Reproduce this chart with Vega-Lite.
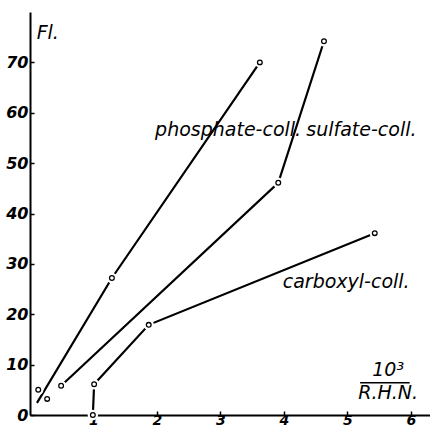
{
  "$schema": "https://vega.github.io/schema/vega-lite/v6.json",
  "width": 400,
  "height": 403,
  "autosize": {"type": "none"},
  "padding": {"left": 30, "top": 12, "right": 0, "bottom": 16},
  "background": "white",
  "config": {"view": {"stroke": null}},
  "datasets": {
    "lines": [
      {"series": "phosphate", "order": 1, "x": 0.11, "y": 2.4},
      {"series": "phosphate", "order": 2, "x": 1.29, "y": 27.2},
      {"series": "phosphate", "order": 3, "x": 3.62, "y": 70.0},
      {"series": "sulfate", "order": 1, "x": 0.49, "y": 5.8},
      {"series": "sulfate", "order": 2, "x": 3.91, "y": 46.1},
      {"series": "sulfate", "order": 3, "x": 4.63, "y": 74.2},
      {"series": "carboxyl", "order": 1, "x": 0.99, "y": 0},
      {"series": "carboxyl", "order": 2, "x": 1.01, "y": 6.1},
      {"series": "carboxyl", "order": 3, "x": 1.87, "y": 17.9},
      {"series": "carboxyl", "order": 4, "x": 5.43, "y": 36.1}
    ],
    "points": [
      {"series": "phosphate", "x": 0.13, "y": 5.0},
      {"series": "phosphate", "x": 0.27, "y": 3.2},
      {"series": "phosphate", "x": 1.29, "y": 27.2},
      {"series": "phosphate", "x": 3.62, "y": 70.0},
      {"series": "sulfate", "x": 0.49, "y": 5.8},
      {"series": "sulfate", "x": 3.91, "y": 46.1},
      {"series": "sulfate", "x": 4.63, "y": 74.2},
      {"series": "carboxyl", "x": 0.99, "y": 0},
      {"series": "carboxyl", "x": 1.01, "y": 6.1},
      {"series": "carboxyl", "x": 1.87, "y": 17.9},
      {"series": "carboxyl", "x": 5.43, "y": 36.1}
    ],
    "labels": [
      {"label": "phosphate-coll.", "x": 3.12, "y": 56.5},
      {"label": "sulfate-coll.", "x": 5.22, "y": 56.5},
      {"label": "carboxyl-coll.", "x": 4.98, "y": 26.4},
      {"label": "Fl.", "x": 0.28, "y": 75.8},
      {"label": "10³", "x": 5.64, "y": 8.9},
      {"label": "R.H.N.", "x": 5.64, "y": 4.3}
    ],
    "fraction": [
      {"x": 5.2, "x2": 5.98, "y": 6.4}
    ]
  },
  "layer": [
    {
      "data": {"name": "lines"},
      "mark": {"type": "line", "color": "black", "strokeWidth": 2.2, "clip": false},
      "encoding": {
        "x": {
          "field": "x", "type": "quantitative",
          "scale": {"domain": [0, 6.3], "nice": false, "zero": false},
          "axis": {
            "values": [1, 2, 3, 4, 5, 6],
            "format": "d",
            "title": null,
            "grid": false,
            "domainColor": "black",
            "domainWidth": 2,
            "tickColor": "black",
            "tickWidth": 1.5,
            "tickSize": -4,
            "labelFont": "DejaVu Sans",
            "labelFontStyle": "oblique",
            "labelFontWeight": "bold",
            "labelFontSize": 14,
            "labelColor": "black",
            "labelPadding": 2,
            "labelBaseline": "top"
          }
        },
        "y": {
          "field": "y", "type": "quantitative",
          "scale": {"domain": [0, 80], "nice": false},
          "axis": {
            "values": [0, 10, 20, 30, 40, 50, 60, 70],
            "format": "d",
            "title": null,
            "grid": false,
            "domainColor": "black",
            "domainWidth": 2,
            "tickColor": "black",
            "tickWidth": 1.5,
            "tickSize": -4,
            "labelFont": "DejaVu Sans",
            "labelFontStyle": "oblique",
            "labelFontWeight": "bold",
            "labelFontSize": 16,
            "labelColor": "black",
            "labelPadding": 6
          }
        },
        "detail": {"field": "series"},
        "order": {"field": "order"}
      }
    },
    {
      "data": {"name": "points"},
      "mark": {"type": "point", "shape": "circle", "filled": true, "color": "white", "size": 110, "opacity": 1, "clip": false},
      "encoding": {
        "x": {"field": "x", "type": "quantitative"},
        "y": {"field": "y", "type": "quantitative"}
      }
    },
    {
      "data": {"name": "points"},
      "mark": {"type": "point", "shape": "circle", "filled": false, "fill": "white", "fillOpacity": 1, "stroke": "black", "strokeWidth": 1.3, "size": 22, "opacity": 1, "clip": false},
      "encoding": {
        "x": {"field": "x", "type": "quantitative"},
        "y": {"field": "y", "type": "quantitative"}
      }
    },
    {
      "data": {"name": "labels"},
      "mark": {"type": "text", "font": "DejaVu Sans", "fontStyle": "oblique", "fontSize": 19, "color": "black", "baseline": "middle", "align": "center"},
      "encoding": {
        "x": {"field": "x", "type": "quantitative"},
        "y": {"field": "y", "type": "quantitative"},
        "text": {"field": "label"}
      }
    },
    {
      "data": {"name": "fraction"},
      "mark": {"type": "rule", "color": "black", "strokeWidth": 1.5},
      "encoding": {
        "x": {"field": "x", "type": "quantitative"},
        "x2": {"field": "x2"},
        "y": {"field": "y", "type": "quantitative"}
      }
    }
  ]
}
